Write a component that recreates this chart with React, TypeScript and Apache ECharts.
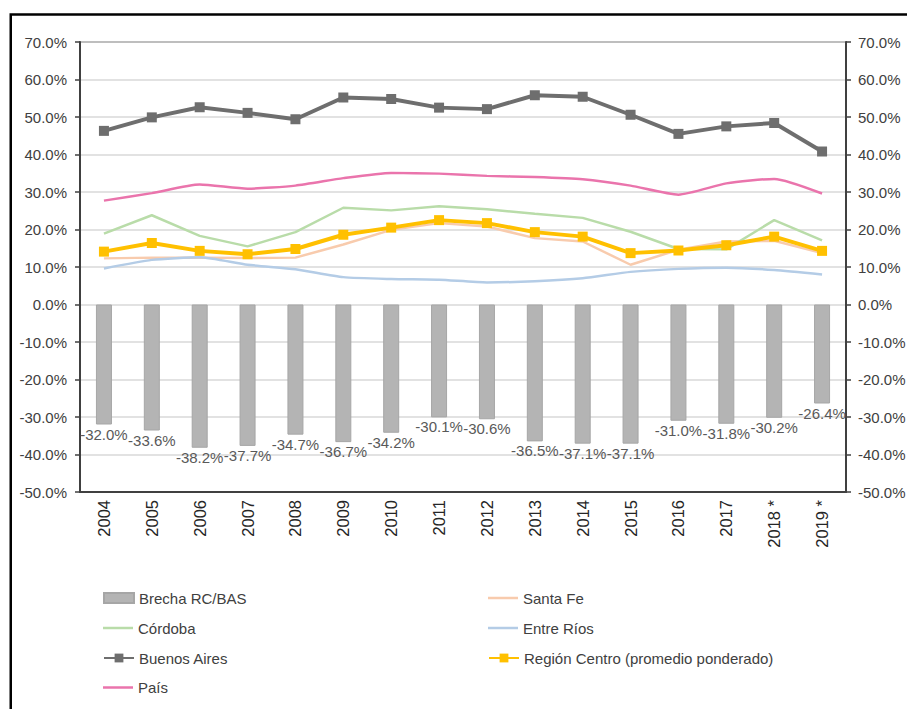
import React, { useEffect, useRef } from "react";
import * as echarts from "echarts";

const years = ["2004", "2005", "2006", "2007", "2008", "2009", "2010", "2011", "2012", "2013", "2014", "2015", "2016", "2017", "2018 *", "2019 *"];
const brecha = [-32.0, -33.6, -38.2, -37.7, -34.7, -36.7, -34.2, -30.1, -30.6, -36.5, -37.1, -37.1, -31.0, -31.8, -30.2, -26.4];
const santaFe = [12.3, 12.5, 12.5, 12.4, 12.5, 16.0, 19.9, 21.7, 20.8, 17.7, 16.8, 10.6, 14.6, 16.8, 17.0, 13.7];
const cordoba = [18.9, 23.8, 18.3, 15.5, 19.3, 25.8, 25.1, 26.2, 25.4, 24.2, 23.1, 19.4, 14.8, 14.7, 22.5, 17.1];
const entreRios = [9.6, 11.9, 12.6, 10.6, 9.4, 7.3, 6.8, 6.6, 5.9, 6.2, 7.0, 8.7, 9.5, 9.8, 9.2, 8.0];
const buenosAires = [46.3, 49.9, 52.6, 51.1, 49.4, 55.2, 54.8, 52.5, 52.1, 55.8, 55.4, 50.6, 45.5, 47.5, 48.4, 40.8];
const regionCentro = [14.1, 16.4, 14.3, 13.4, 14.8, 18.6, 20.5, 22.5, 21.7, 19.3, 18.1, 13.7, 14.4, 15.8, 18.1, 14.3];
const pais = [27.7, 29.7, 32.0, 30.9, 31.7, 33.7, 35.1, 34.9, 34.3, 34.0, 33.4, 31.7, 29.3, 32.3, 33.5, 29.6];

const FONT = "Liberation Sans, Arial, sans-serif";
const pct = (v: number) => v.toFixed(1) + "%";

const legendText = { color: "#404040", fontFamily: FONT, fontSize: 15, lineHeight: 17 };
function legendItem(name: string, left: number, centerY: number, itemHeight: number, icon?: string) {
  const l: any = {
    orient: "vertical",
    left,
    top: centerY - 8.5,
    padding: 0,
    itemWidth: 30,
    itemHeight,
    textStyle: legendText,
    data: [name],
  };
  if (icon) l.icon = icon;
  return l;
}

export default function App() {
  const ref = useRef<HTMLDivElement>(null);
  useEffect(() => {
    if (!ref.current) return;
    const chart = echarts.init(ref.current, null, { renderer: "svg" });
    const yCommon = {
      type: "value",
      min: -50,
      max: 70,
      interval: 10,
      axisLine: { show: true, lineStyle: { color: "#404040", width: 2 } },
      axisTick: { show: true, inside: false, length: 5, lineStyle: { color: "#404040", width: 1.5 } },
      axisLabel: { formatter: pct, color: "#404040", fontFamily: FONT, fontSize: 15 },
    };
    chart.setOption({
      animation: false,
      backgroundColor: "#ffffff",
      textStyle: { fontFamily: FONT },
      grid: {
        left: 80,
        right: 61,
        top: 42,
        bottom: 217,
        show: true,
        borderColor: "#404040",
        borderWidth: 1.5,
        outerBoundsMode: "none",
      },
      xAxis: {
        type: "category",
        data: years,
        axisLine: { onZero: false, lineStyle: { color: "#404040", width: 2 } },
        axisTick: { show: false },
        axisLabel: { rotate: 90, interval: 0, color: "#262626", fontFamily: FONT, fontSize: 16.5, margin: 8 },
      },
      yAxis: [
        {
          ...yCommon,
          position: "left",
          axisLabel: { ...yCommon.axisLabel, margin: 13 },
          splitLine: { show: true, lineStyle: { color: "#d9d9d9", width: 1.5 } },
        },
        {
          ...yCommon,
          position: "right",
          axisLabel: { ...yCommon.axisLabel, margin: 12 },
          splitLine: { show: false },
        },
      ],
      legend: [
        legendItem("Brecha RC/BAS", 103, 598, 10, "rect"),
        legendItem("Córdoba", 103, 628, 2.5, "rect"),
        legendItem("Buenos Aires", 103, 658, 11),
        legendItem("País", 103, 687.5, 2.5, "rect"),
        legendItem("Santa Fe", 488, 598, 2.5, "rect"),
        legendItem("Entre Ríos", 488, 628, 2.5, "rect"),
        legendItem("Región Centro (promedio ponderado)", 488, 658, 11),
      ],
      graphic: [
        {
          type: "rect",
          shape: { x: 10.75, y: 14.5, width: 1200, height: 1200 },
          style: { fill: "none", stroke: "#000000", lineWidth: 2.5 },
          silent: true,
        },
      ],
      series: [
        {
          name: "Brecha RC/BAS",
          type: "bar",
          data: brecha,
          barWidth: 16,
          itemStyle: { color: "#b4b4b4", borderColor: "#a6a6a6", borderWidth: 1 },
          label: {
            show: true,
            position: "bottom",
            distance: 2,
            formatter: (p: any) => pct(p.value),
            color: "#595959",
            fontFamily: FONT,
            fontSize: 15,
          },
          z: 1,
        },
        {
          name: "Santa Fe",
          type: "line",
          data: santaFe,
          symbol: "none",
          lineStyle: { color: "#f8cbad", width: 2.5 },
          itemStyle: { color: "#f8cbad" },
          z: 2,
        },
        {
          name: "Córdoba",
          type: "line",
          data: cordoba,
          symbol: "none",
          lineStyle: { color: "#b9dca9", width: 2.5 },
          itemStyle: { color: "#b9dca9" },
          z: 2,
        },
        {
          name: "Entre Ríos",
          type: "line",
          data: entreRios,
          symbol: "none",
          smooth: 0.2,
          lineStyle: { color: "#b4cce6", width: 2.5 },
          itemStyle: { color: "#b4cce6" },
          z: 2,
        },
        {
          name: "Buenos Aires",
          type: "line",
          data: buenosAires,
          symbol: "rect",
          symbolSize: 10,
          lineStyle: { color: "#6e6e6e", width: 4 },
          itemStyle: { color: "#6e6e6e" },
          z: 3,
        },
        {
          name: "Región Centro (promedio ponderado)",
          type: "line",
          data: regionCentro,
          symbol: "rect",
          symbolSize: 10,
          lineStyle: { color: "#ffc000", width: 4 },
          itemStyle: { color: "#ffc000" },
          z: 4,
        },
        {
          name: "País",
          type: "line",
          data: pais,
          symbol: "none",
          smooth: 0.2,
          lineStyle: { color: "#ea74ac", width: 2.5 },
          itemStyle: { color: "#ea74ac" },
          z: 3,
        },
      ],
    });
    return () => chart.dispose();
  }, []);
  return (
    <div
      ref={ref}
      style={{ position: "fixed", left: 0, top: 0, width: 907, height: 709, background: "#fff" }}
    />
  );
}
